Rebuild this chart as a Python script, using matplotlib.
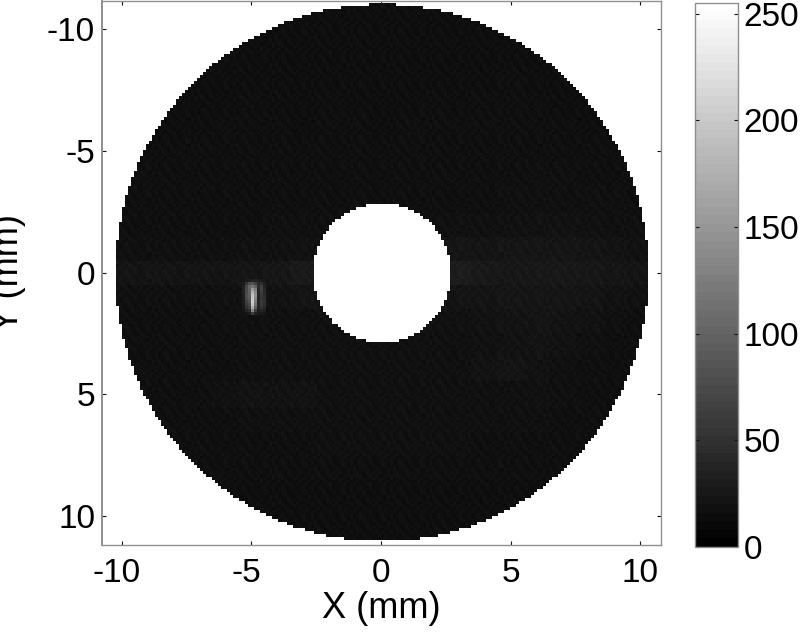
import numpy as np
import matplotlib
matplotlib.use('Agg')
import matplotlib.pyplot as plt
from matplotlib.cm import ScalarMappable
from matplotlib.colors import Normalize
from matplotlib.transforms import ScaledTranslation

plt.rcParams['font.family'] = ['Liberation Sans', 'DejaVu Sans']
plt.rcParams['axes.unicode_minus'] = False

# Brightness, 1 mm blocks, rows y = -11..11, columns x = -10..10
y_blocks = [-11, -10, -9, -8, -7, -6, -5, -4, -3, -2, -1, 0, 1, 2, 3, 4, 5, 6, 7, 8, 9, 10, 11]
x_blocks = [-10, -9, -8, -7, -6, -5, -4, -3, -2, -1, 0, 1, 2, 3, 4, 5, 6, 7, 8, 9, 10]
brightness = [
    [14, 14, 14, 14, 14, 14, 14, 14, 14, 14, 14, 14, 14, 14, 14, 14, 14, 14, 14, 14, 14],
    [14, 14, 14, 14, 14, 14, 14, 14, 14, 14, 14, 14, 14, 14, 14, 14, 14, 14, 14, 14, 14],
    [14, 14, 14, 14, 14, 14, 14, 14, 14, 14, 14, 14, 14, 14, 14, 14, 14, 14, 14, 14, 14],
    [14, 14, 14, 14, 14, 14, 14, 14, 14, 14, 14, 14, 14, 14, 14, 15, 14, 14, 14, 14, 14],
    [14, 14, 14, 14, 14, 15, 14, 14, 15, 14, 14, 14, 15, 14, 15, 15, 15, 14, 14, 14, 14],
    [14, 14, 14, 14, 15, 15, 15, 14, 15, 15, 14, 15, 15, 15, 15, 15, 15, 15, 14, 14, 14],
    [14, 14, 15, 15, 15, 15, 15, 15, 15, 15, 15, 15, 15, 15, 15, 15, 15, 15, 15, 15, 14],
    [14, 15, 15, 15, 15, 15, 15, 15, 15, 15, 15, 15, 15, 15, 15, 15, 16, 16, 15, 15, 15],
    [15, 15, 15, 15, 15, 15, 15, 15, 15, 15, 15, 15, 15, 15, 15, 16, 16, 16, 16, 16, 15],
    [15, 15, 15, 15, 15, 15, 16, 16, 16, 16, 16, 16, 16, 17, 17, 17, 18, 18, 17, 16, 16],
    [16, 16, 16, 16, 16, 17, 17, 18, 19, 19, 19, 19, 19, 21, 20, 21, 21, 21, 20, 19, 17],
    [20, 20, 20, 20, 20, 21, 22, 26, 28, 19, 19, 19, 25, 28, 25, 23, 24, 24, 23, 21, 20],
    [16, 16, 16, 16, 17, 18, 18, 20, 20, 19, 19, 19, 20, 20, 20, 21, 21, 21, 20, 18, 17],
    [15, 15, 15, 15, 16, 16, 16, 16, 16, 16, 16, 16, 17, 17, 18, 19, 20, 19, 18, 16, 15],
    [15, 15, 15, 15, 15, 16, 16, 16, 16, 16, 16, 16, 16, 16, 17, 18, 19, 18, 16, 15, 15],
    [15, 15, 15, 15, 15, 16, 16, 16, 16, 16, 16, 16, 16, 16, 19, 20, 18, 16, 15, 15, 15],
    [15, 15, 15, 15, 17, 19, 18, 19, 16, 16, 16, 16, 16, 16, 16, 16, 17, 16, 15, 15, 15],
    [15, 15, 15, 15, 15, 16, 16, 16, 16, 16, 16, 16, 16, 16, 16, 16, 16, 15, 15, 15, 15],
    [15, 15, 15, 15, 15, 15, 15, 15, 16, 16, 16, 16, 16, 16, 15, 15, 15, 15, 15, 15, 15],
    [15, 15, 15, 15, 15, 15, 15, 15, 15, 15, 15, 15, 15, 15, 15, 15, 15, 15, 15, 15, 15],
    [14, 14, 14, 14, 14, 14, 14, 14, 14, 14, 14, 14, 14, 14, 14, 14, 14, 14, 14, 14, 14],
    [14, 14, 14, 14, 14, 14, 14, 14, 14, 14, 14, 14, 14, 14, 14, 14, 14, 14, 14, 14, 14],
    [14, 14, 14, 14, 14, 14, 14, 14, 14, 14, 14, 14, 14, 14, 14, 14, 14, 14, 14, 14, 14],
]

speckle = [
    [-3, 1, 3, -2, 0, 2, -3, 1, 4, -1, -2, 2, -1],
    [-2, -1, 4, 1, -3, 3, -4, 0, 3, 2, -3, 1, 0],
    [0, -3, 2, 3, -2, -1, 1, -2, 0, 4, -1, -4, 2],
    [2, 1, -2, -4, 3, 0, 4, -3, -1, 1, 2, -2, -3],
    [-1, 3, 0, -2, 2, -4, 1, 3, -3, -2, 4, 0, 1],
    [3, -2, -3, 1, 0, 2, -1, 4, 2, -4, 0, 3, -2],
    [1, 0, 2, -1, -3, 4, -2, -1, 3, 1, -3, -1, 2],
    [-2, 4, -1, 2, 1, -3, 0, 2, -4, 3, 1, -2, -1],
    [0, -1, 1, 3, -2, 1, 3, -3, 0, -1, 2, 4, -3],
]

# bright spot near x=-4.8, y=0.7, one value per image pixel
spot_x0 = -5.38
spot_y0 = 0.14
spot = [
    [20, 26, 30, 32, 34, 30, 26, 24],
    [26, 52, 76, 82, 64, 40, 46, 30],
    [30, 70, 100, 118, 96, 44, 62, 34],
    [32, 74, 100, 155, 124, 40, 66, 40],
    [32, 76, 98, 180, 138, 38, 60, 42],
    [30, 78, 94, 195, 142, 34, 56, 44],
    [28, 74, 88, 200, 134, 34, 54, 46],
    [28, 66, 82, 205, 124, 36, 56, 48],
    [26, 58, 70, 198, 114, 38, 56, 44],
    [24, 48, 60, 172, 94, 36, 50, 40],
    [22, 34, 44, 132, 62, 30, 36, 30],
    [18, 24, 28, 60, 34, 24, 26, 22],
]

x_ticks = [-10, -5, 0, 5, 10]
y_ticks = [-10, -5, 0, 5, 10]
bar_ticks = [0, 50, 100, 150, 200, 250]

# annulus limits in mm
outer_x, outer_y = 10.27, 11.03
inner_x, inner_y = 2.65, 2.86
center_x = 0.03

dx = 3 / 25.9
dy = 3 / 24.35
x_edges = np.arange(-10.8, 10.8 + dx, dx)
y_edges = np.arange(-11.2, 11.2 + dy, dy)
x_mid = (x_edges[:-1] + x_edges[1:]) / 2
y_mid = (y_edges[:-1] + y_edges[1:]) / 2

blocks = np.array(brightness, dtype=float)
col = np.clip(np.searchsorted(np.array(x_blocks) + 0.5, x_mid), 0, len(x_blocks) - 1)
row = np.clip(np.searchsorted(np.array(y_blocks) + 0.5, y_mid), 0, len(y_blocks) - 1)
image = blocks[np.ix_(row, col)]

tile = np.array(speckle, dtype=float)
image += tile[np.ix_(np.arange(len(y_mid)) % tile.shape[0], np.arange(len(x_mid)) % tile.shape[1])]

spot_vals = np.array(spot, dtype=float)
i0 = np.searchsorted(y_edges, spot_y0)
j0 = np.searchsorted(x_edges, spot_x0)
image[i0:i0 + spot_vals.shape[0], j0:j0 + spot_vals.shape[1]] = spot_vals

xx, yy = np.meshgrid(x_mid, y_mid)
outside = ((xx - center_x) / outer_x) ** 2 + (yy / outer_y) ** 2 > 1
hole = ((xx - center_x) / inner_x) ** 2 + (yy / inner_y) ** 2 < 1
image = np.ma.masked_where(outside | hole, image)

W, H = 800, 633
fig = plt.figure(figsize=(W / 100, H / 100), dpi=100)
ax = fig.add_axes([102 / W, 1 - 545 / H, 558.5 / W, 544 / H])
cax = fig.add_axes([694.5 / W, 1 - 546.8 / H, 43.5 / W, 543.8 / H])

ax.imshow(image, cmap='gray', vmin=0, vmax=255, aspect='auto', interpolation='nearest',
          extent=[x_edges[0], x_edges[-1], y_edges[-1], y_edges[0]])
ax.set_xlim(-10.77, 10.79)
ax.set_ylim(11.19, -11.15)
ax.set_xticks(x_ticks)
ax.set_yticks(y_ticks)
ax.tick_params(direction='in', length=3, width=0.8, top=True, right=True,
               labelsize=24, color='#111111')
ax.tick_params(axis='x', pad=9)
ax.tick_params(axis='y', pad=5)
ax.set_xlabel('X (mm)', fontsize=26, va='center')
ax.xaxis.set_label_coords(0.5, -0.116, transform=ax.transAxes)
ax.set_ylabel('Y (mm)', fontsize=26, va='center')
ax.yaxis.set_label_coords(-93 / 558.5, 0.5, transform=ax.transAxes)
for side, spine in ax.spines.items():
    spine.set_color('#8f8f8f')
    spine.set_linewidth(1.0)
ax.spines['left'].set_linewidth(1.4)

# negative x labels sit a little left of their ticks in the original
for tick, value in zip(ax.xaxis.get_major_ticks(), x_ticks):
    if value < 0:
        tick.label1.set_transform(tick.label1.get_transform()
                                  + ScaledTranslation(-5 / 100, 0, fig.dpi_scale_trans))

# colorbar has the visible 64 grey bands
bar_map = ScalarMappable(Normalize(0, 255), plt.get_cmap('gray', 64))
cb = fig.colorbar(bar_map, cax=cax)
cb.set_ticks(bar_ticks)
cax.set_ylim(0, 255)
cax.tick_params(direction='in', length=3, width=0.8, left=True, right=True,
                labelsize=24, pad=4, color='#111111')
cb.outline.set_edgecolor('#8f8f8f')
cb.outline.set_linewidth(1.0)

plt.savefig('out.png', dpi=100)
